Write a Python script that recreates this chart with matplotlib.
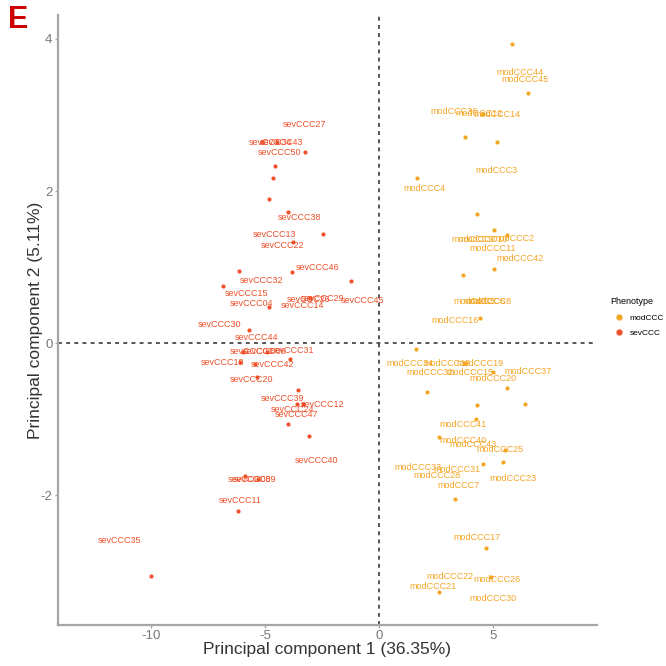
import matplotlib
matplotlib.use("Agg")
import matplotlib.pyplot as plt
from matplotlib.lines import Line2D

plt.rcParams['font.family'] = ['Liberation Sans', 'DejaVu Sans']
plt.rcParams['axes.unicode_minus'] = False

# --- data: PCA scores ---
sev_x = [-5.13, -4.47, -3.25, -4.56, -4.65, -4.82, -3.99, -2.46, -3.77, -3.82,
         -6.14, -1.23, -6.84, -3.03, -4.82, -5.70, -5.96, -4.91, -3.90, -6.10,
         -5.44, -5.35, -3.55, -3.33, -3.60, -3.99, -3.07, -5.88, -5.30, -6.18, -10.0]
sev_y = [2.64, 2.64, 2.51, 2.33, 2.17, 1.90, 1.72, 1.44, 1.33, 0.94,
         0.95, 0.82, 0.75, 0.60, 0.47, 0.18, -0.11, -0.11, -0.21, -0.25,
         -0.27, -0.45, -0.61, -0.80, -0.80, -1.06, -1.22, -1.75, -1.78, -2.20, -3.06]

mod_x = [5.83, 6.54, 4.56, 3.77, 5.18, 1.67, 4.30, 5.04, 5.61, 5.04,
         3.68, 4.43, 1.62, 3.77, 5.00, 5.61, 2.11, 4.30, 6.40, 4.25,
         2.63, 5.53, 5.44, 4.56, 3.33, 4.69, 2.63, 4.90]
mod_y = [3.93, 3.29, 3.01, 2.71, 2.65, 2.17, 1.70, 1.49, 1.42, 0.98,
         0.90, 0.33, -0.07, -0.26, -0.38, -0.59, -0.64, -0.81, -0.80, -0.99,
         -1.23, -1.41, -1.56, -1.59, -2.05, -2.69, -3.27, -3.07]

# sample labels (as placed by the repel step in the original)
sev_lab = ['sevCCC27', 'sevCCC34', 'sevCCC43', 'sevCCC50', 'sevCCC38', 'sevCCC13',
           'sevCCC22', 'sevCCC46', 'sevCCC32', 'sevCCC15', 'sevCCC04', 'sevCCC14',
           'sevCCC26', 'sevCCC29', 'sevCCC45', 'sevCCC30', 'sevCCC44', 'sevCCC03',
           'sevCCC06', 'sevCCC31', 'sevCCC18', 'sevCCC42', 'sevCCC20', 'sevCCC39',
           'sevCCC12', 'sevCCC24', 'sevCCC47', 'sevCCC40', 'sevCCC08', 'sevCCC09',
           'sevCCC11', 'sevCCC35']
sev_lx = [-3.25, -4.75, -4.25, -4.34, -3.46, -4.56, -4.21, -2.68, -5.13, -5.79,
          -5.57, -3.33, -3.10, -2.46, -0.70, -6.97, -5.35, -5.60, -5.00, -3.77,
          -6.84, -4.65, -5.57, -4.21, -2.46, -3.77, -3.60, -2.72, -5.66, -5.45,
          -6.10, -11.36]
sev_ly = [2.88, 2.64, 2.64, 2.51, 1.65, 1.43, 1.28, 0.99, 0.82, 0.65,
          0.52, 0.50, 0.57, 0.59, 0.56, 0.25, 0.07, -0.11, -0.11, -0.10,
          -0.25, -0.28, -0.48, -0.73, -0.81, -0.87, -0.94, -1.54, -1.79, -1.79,
          -2.07, -2.59]

mod_lab = ['modCCC44', 'modCCC45', 'modCCC36', 'modCCC12', 'modCCC14', 'modCCC3',
           'modCCC4', 'modCCC9', 'modCCC10', 'modCCC2', 'modCCC11', 'modCCC42',
           'modCCC5', 'modCCC6', 'modCCC8', 'modCCC16', 'modCCC34', 'modCCC13',
           'modCCC19', 'modCCC32', 'modCCC15', 'modCCC37', 'modCCC20', 'modCCC41',
           'modCCC40', 'modCCC43', 'modCCC25', 'modCCC33', 'modCCC31', 'modCCC28',
           'modCCC23', 'modCCC7', 'modCCC17', 'modCCC22', 'modCCC26', 'modCCC21',
           'modCCC30']
mod_lx = [6.18, 6.40, 3.30, 4.40, 5.18, 5.18, 2.02, 4.10, 4.60, 5.90,
          5.00, 6.18, 4.20, 4.65, 4.90, 3.33, 1.36, 3.00, 4.43, 2.24,
          3.99, 6.54, 5.00, 3.68, 3.68, 4.12, 5.31, 1.71, 3.42, 2.54,
          5.88, 3.50, 4.30, 3.11, 5.18, 2.37, 5.00]
mod_ly = [3.56, 3.46, 3.05, 3.02, 3.01, 2.27, 2.03, 1.36, 1.36, 1.38,
          1.24, 1.11, 0.55, 0.55, 0.55, 0.30, -0.27, -0.27, -0.27, -0.38,
          -0.39, -0.37, -0.46, -1.07, -1.28, -1.33, -1.40, -1.63, -1.66, -1.74,
          -1.78, -1.87, -2.55, -3.07, -3.10, -3.20, -3.35]

col_mod = '#F5A524'
col_sev = '#F0512B'

fig = plt.figure(figsize=(6.66, 6.66), dpi=100)
ax = fig.add_axes([0.087, 0.062, 0.809, 0.915])

# reference lines
ax.axvline(0, color='#555555', lw=1.4, ls=(0, (2, 2.2)), zorder=1)
ax.axhline(0, color='#555555', lw=1.4, ls=(0, (2, 2.2)), zorder=1)

ax.scatter(mod_x, mod_y, s=9, color=col_mod, zorder=3, linewidths=0)
ax.scatter(sev_x, sev_y, s=9, color=col_sev, zorder=3, linewidths=0)

for t, x, y in zip(mod_lab, mod_lx, mod_ly):
    ax.text(x, y, t, color=col_mod, fontsize=6.5, ha='center', va='center', zorder=2)
for t, x, y in zip(sev_lab, sev_lx, sev_ly):
    ax.text(x, y, t, color=col_sev, fontsize=6.5, ha='center', va='center', zorder=2)

ax.set_xlim(-14.08, 9.56)
ax.set_ylim(-3.70, 4.31)
ax.set_xticks([-10, -5, 0, 5])
ax.set_yticks([-2, 0, 2, 4])

for s in ['top', 'right']:
    ax.spines[s].set_visible(False)
for s in ['left', 'bottom']:
    ax.spines[s].set_color('#A6A6A6')
    ax.spines[s].set_linewidth(1.6)
ax.tick_params(colors='#A6A6A6', length=2.5, width=1, labelsize=9.5,
               labelcolor='#777777', pad=1.5)

ax.set_xlabel('Principal component 1 (36.35%)', fontsize=12.5, color='#333333', labelpad=0)
ax.set_ylabel('Principal component 2 (5.11%)', fontsize=12.5, color='#333333', labelpad=-2)

# legend, partly outside the figure as in the source
handles = [Line2D([], [], marker='o', ls='', color=col_mod, markersize=3.5),
           Line2D([], [], marker='o', ls='', color=col_sev, markersize=3.5)]
fig.legend(handles, ['modCCC', 'sevCCC'], title='Phenotype', loc='upper left',
           bbox_to_anchor=(0.905, 0.565), frameon=False, fontsize=6,
           title_fontsize=6.5, handletextpad=0.3, labelspacing=0.9,
           alignment='left')

fig.text(0.012, 0.993, 'E', fontsize=22, fontweight='bold', color='#CC0000',
         ha='left', va='top')

plt.savefig('out.png', dpi=100)
